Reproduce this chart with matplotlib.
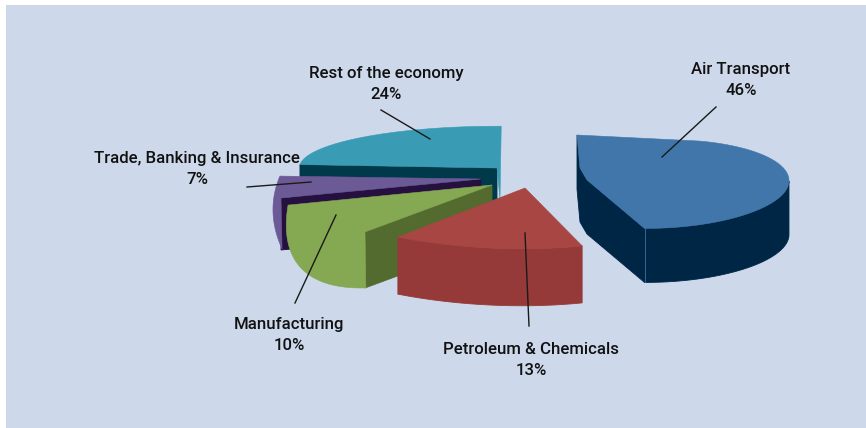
import numpy as np
import matplotlib
matplotlib.use("Agg")
import matplotlib.pyplot as plt
from matplotlib.patches import Rectangle

plt.rcParams["font.family"] = ["Roboto", "DejaVu Sans"]

# Share of each sector, in percent
categories = ["Air Transport", "Petroleum & Chemicals", "Manufacturing",
              "Trade, Banking & Insurance", "Rest of the economy"]
shares = [46, 13, 10, 7, 24]

# ----------------------------------------
# Slice geometry: every slice sits on its own foreshortened ellipse.
# The rim sweeps share * 360 degrees, centred on the "u" axis.
# ----------------------------------------
layout = {
    "Air Transport": dict(centre=(656, 184), u=(130, 6), v=(28, -44),
                          corners=[(577, 135), (580, 168), (587, 180)],
                          depth=54, wall="all",
                          top="#4176ab", side="#002645"),
    "Petroleum & Chemicals": dict(centre=(490, 169), u=(0, 79), v=(232, 11),
                                  corners=[(525, 188)],
                                  depth=57, wall="rim",
                                  top="#a84644", side="#953a39"),
    "Manufacturing": dict(centre=(832, -171), u=(-531, 439), v=(126, 134),
                          corners=[(365, 232), (492, 185)],
                          depth=56, wall="corners",
                          top="#85a852", side="#536b2f"),
    "Trade, Banking & Insurance": dict(centre=(605, 233), u=(-332, -21), v=(5, 167),
                                       corners=[(281, 198), (481, 179)],
                                       depth=52, wall="corners",
                                       top="#6b5a96", side="#25103f"),
    "Rest of the economy": dict(centre=(499, 168), u=(-135, -31), v=(147, -28),
                                corners=[(500, 199), (497, 168)],
                                depth=40, wall="close",
                                top="#3a9bb4", side="#00394a"),
}

# back to front
draw_order = ["Rest of the economy", "Trade, Banking & Insurance", "Manufacturing",
              "Petroleum & Chemicals", "Air Transport"]

# label centre and leader line for each slice
labels = {
    "Air Transport": dict(pos=(741, 80), line=[(716, 107), (662, 157)]),
    "Petroleum & Chemicals": dict(pos=(531, 360), line=[(529, 326), (525, 233)]),
    "Manufacturing": dict(pos=(289, 335), line=[(295, 303), (336, 215)]),
    "Trade, Banking & Insurance": dict(pos=(197, 169), line=[(247, 187), (311, 182)]),
    "Rest of the economy": dict(pos=(386, 84), line=[(381, 110), (430, 139)]),
}


def rim_points(share, geo, n=80):
    half = np.radians(share * 360 / 100) / 2
    t = np.linspace(-half, half, n)
    c, u, v = np.array(geo["centre"]), np.array(geo["u"]), np.array(geo["v"])
    return c + np.outer(np.cos(t), u) + np.outer(np.sin(t), v)


def draw_wall(ax, path, depth, color):
    # the edge and its copy pushed straight down, as one polygon
    band = np.vstack([path, path[::-1] + [0, depth]])
    ax.fill(band[:, 0], band[:, 1], color=color, lw=0.6, zorder=2)


def front_of_rim(rim):
    # past the rightmost point the rim runs away from the viewer
    return rim[:np.argmax(rim[:, 0]) + 1]


fig = plt.figure(figsize=(8.66, 4.28), dpi=100, facecolor="white")
ax = fig.add_axes([0, 0, 1, 1])
ax.set_xlim(0, 866)
ax.set_ylim(428, 0)
ax.axis("off")
ax.add_patch(Rectangle((6, 5), 860, 423, facecolor="#cdd8ea", edgecolor="none", zorder=0))

share_of = dict(zip(categories, shares))
for name in draw_order:
    geo = layout[name]
    rim = rim_points(share_of[name], geo)
    corners = np.array(geo["corners"], dtype=float)
    outline = np.vstack([rim, corners])

    if geo["wall"] == "all":
        draw_wall(ax, front_of_rim(rim), geo["depth"], geo["side"])
        draw_wall(ax, np.vstack([corners, rim[:1]]), geo["depth"], geo["side"])
    elif geo["wall"] == "rim":
        draw_wall(ax, front_of_rim(rim), geo["depth"], geo["side"])
    elif geo["wall"] == "corners":
        draw_wall(ax, corners, geo["depth"], geo["side"])
    else:
        draw_wall(ax, np.vstack([corners[-1:], rim[:1]]), geo["depth"], geo["side"])
    ax.fill(outline[:, 0], outline[:, 1], color=geo["top"], lw=0.4, zorder=2)

# thin highlight on the front corner of the big slice
air = rim_points(share_of["Air Transport"], layout["Air Transport"])[0]
ax.plot([air[0], air[0]], [air[1], air[1] + layout["Air Transport"]["depth"]],
        color="#3f6f9b", lw=0.6, zorder=3)

for name in categories:
    lab = labels[name]
    (x0, y0), (x1, y1) = lab["line"]
    ax.plot([x0, x1], [y0, y1], color="#1a1a1a", lw=1.0, zorder=4)
    ax.text(lab["pos"][0], lab["pos"][1], f"{name}\n{share_of[name]}%",
            ha="center", va="center", fontsize=12.1, fontweight="medium",
            color="#111111", linespacing=1.5, zorder=5)

fig.savefig("out.png", dpi=100)
